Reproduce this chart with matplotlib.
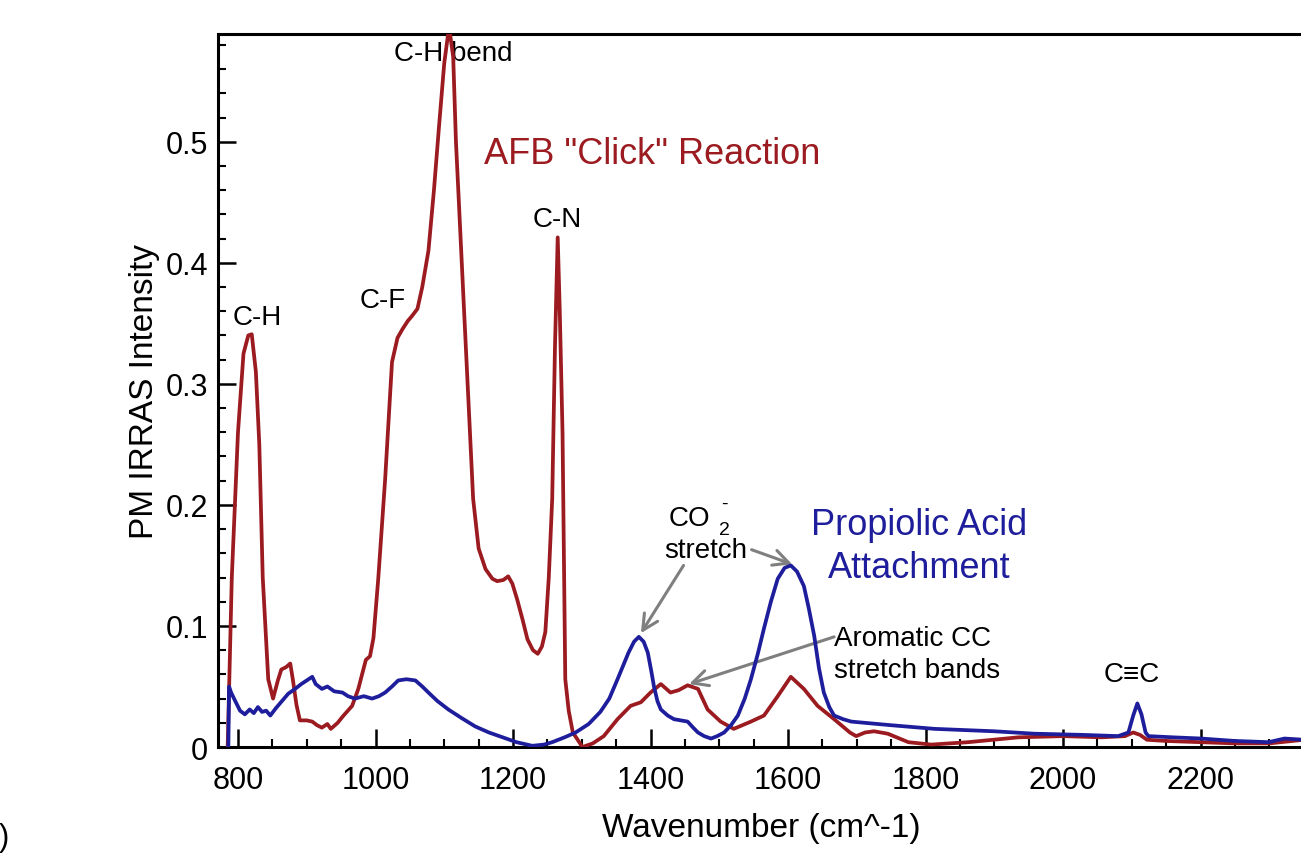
import numpy as np
import matplotlib
matplotlib.use("Agg")
import matplotlib.pyplot as plt
from matplotlib.ticker import MultipleLocator, FuncFormatter

# --------------------------------------------------------------
# Data
# --------------------------------------------------------------
afb_wn = [785, 791, 800, 808, 815, 820, 826, 831, 836, 844, 851, 858, 863, 870, 876,
          880, 885, 890, 900, 908, 915, 922, 930, 935, 945, 952, 966, 975, 980, 986,
          992, 997, 1004, 1014, 1024, 1032, 1039, 1047, 1053, 1061, 1068, 1077, 1085,
          1092, 1100, 1107, 1113, 1117, 1121, 1128, 1135, 1142, 1150, 1160, 1170, 1177,
          1186, 1193, 1199, 1206, 1214, 1221, 1229, 1236, 1242, 1247, 1252, 1257, 1261,
          1265, 1268, 1272, 1276, 1281, 1287, 1301, 1316, 1332, 1352, 1371, 1386, 1400,
          1415, 1429, 1441, 1454, 1469, 1483, 1502, 1521, 1546, 1565, 1585, 1604, 1623,
          1643, 1667, 1690, 1699, 1712, 1725, 1745, 1775, 1808, 1862, 1935, 2000, 2056,
          2090, 2102, 2112, 2122, 2150, 2200, 2250, 2300, 2350]
afb_int = [0.0, 0.14, 0.26, 0.325, 0.34, 0.341, 0.31, 0.25, 0.14, 0.056, 0.040, 0.055,
           0.064, 0.066, 0.069, 0.055, 0.035, 0.022, 0.022, 0.021, 0.018, 0.016, 0.019,
           0.015, 0.020, 0.025, 0.034, 0.048, 0.059, 0.072, 0.075, 0.090, 0.139, 0.221,
           0.318, 0.338, 0.345, 0.352, 0.356, 0.362, 0.380, 0.410, 0.460, 0.510, 0.565,
           0.595, 0.570, 0.500, 0.453, 0.370, 0.288, 0.205, 0.164, 0.147, 0.139, 0.137,
           0.138, 0.141, 0.135, 0.122, 0.105, 0.089, 0.080, 0.077, 0.083, 0.095, 0.140,
           0.205, 0.330, 0.421, 0.360, 0.260, 0.056, 0.030, 0.012, 0.0, 0.003, 0.009,
           0.023, 0.034, 0.037, 0.045, 0.052, 0.045, 0.047, 0.051, 0.048, 0.031, 0.021,
           0.015, 0.021, 0.026, 0.042, 0.058, 0.048, 0.034, 0.023, 0.012, 0.009, 0.012,
           0.013, 0.011, 0.004, 0.002, 0.004, 0.008, 0.009, 0.008, 0.009, 0.012, 0.010,
           0.006, 0.005, 0.004, 0.003, 0.003, 0.006]

prop_wn = [786, 787, 790, 796, 803, 810, 817, 823, 829, 835, 841, 847, 855, 864, 873,
           883, 892, 900, 908, 913, 922, 930, 940, 952, 960, 970, 983, 995, 1005, 1014,
           1024, 1033, 1045, 1058, 1068, 1077, 1090, 1106, 1125, 1145, 1165, 1185, 1205,
           1228, 1245, 1257, 1275, 1291, 1310, 1327, 1340, 1352, 1360, 1368, 1376, 1383,
           1390, 1396, 1401, 1405, 1410, 1415, 1425, 1434, 1454, 1462, 1469, 1478, 1488,
           1497, 1507, 1517, 1527, 1537, 1546, 1556, 1565, 1575, 1585, 1595, 1604, 1613,
           1623, 1630, 1638, 1645, 1652, 1660, 1667, 1680, 1692, 1750, 1813, 1900, 1958,
           2030, 2080, 2095, 2102, 2108, 2114, 2120, 2124, 2160, 2201, 2250, 2299, 2322,
           2350]
prop_int = [0.0, 0.050, 0.045, 0.038, 0.030, 0.027, 0.031, 0.028, 0.033, 0.029, 0.030,
            0.026, 0.032, 0.038, 0.044, 0.048, 0.052, 0.055, 0.058, 0.052, 0.048, 0.050,
            0.046, 0.045, 0.042, 0.040, 0.042, 0.040, 0.042, 0.045, 0.050, 0.055, 0.056,
            0.055, 0.050, 0.045, 0.038, 0.031, 0.024, 0.017, 0.012, 0.008, 0.004, 0.001,
            0.002, 0.004, 0.008, 0.012, 0.019, 0.029, 0.040, 0.056, 0.067, 0.078, 0.087,
            0.091, 0.087, 0.078, 0.063, 0.050, 0.038, 0.031, 0.026, 0.023, 0.021, 0.016,
            0.012, 0.009, 0.007, 0.009, 0.012, 0.018, 0.026, 0.040, 0.056, 0.077, 0.098,
            0.120, 0.139, 0.148, 0.150, 0.145, 0.133, 0.115, 0.092, 0.065, 0.045, 0.033,
            0.026, 0.023, 0.021, 0.018, 0.015, 0.013, 0.011, 0.010, 0.009, 0.012, 0.026,
            0.036, 0.027, 0.012, 0.009, 0.008, 0.007, 0.005, 0.004, 0.007, 0.006]

red = "#9b1b20"
blue = "#1e1e9c"
grey = "#7f7f7f"

# --------------------------------------------------------------
# Plot settings
# --------------------------------------------------------------
plt.rcParams["font.family"] = ["Liberation Sans", "DejaVu Sans"]

fig = plt.figure(figsize=(13.01, 8.54), dpi=100)
ax = fig.add_axes([0.1676, 0.1241, 0.8345, 0.8349])

ax.plot(afb_wn, afb_int, color=red, lw=2.7, zorder=3)
ax.plot(prop_wn, prop_int, color=blue, lw=2.7, zorder=4)

ax.set_xlim(771, 2350)
ax.set_ylim(0, 0.589)

ax.xaxis.set_major_locator(MultipleLocator(200))
ax.xaxis.set_minor_locator(MultipleLocator(50))
ax.yaxis.set_major_locator(MultipleLocator(0.1))
ax.yaxis.set_minor_locator(MultipleLocator(0.02))
ax.yaxis.set_major_formatter(FuncFormatter(lambda v, p: "0" if abs(v) < 1e-9 else f"{v:.1f}"))

ax.tick_params(which="major", direction="in", length=13, width=1.8, labelsize=22, pad=7)
ax.tick_params(axis="x", which="major", pad=13)
ax.tick_params(which="minor", direction="in", length=6, width=1.5)
for s in ax.spines.values():
    s.set_linewidth(2.2)

ax.set_xlabel("Wavenumber (cm^-1)", fontsize=24, labelpad=12)
ax.set_ylabel("PM IRRAS Intensity", fontsize=24, labelpad=4)

# --------------------------------------------------------------
# Labels on the peaks
# --------------------------------------------------------------
small = 20
ax.text(1113, 0.573, "C-H bend", fontsize=small, ha="center", va="center", zorder=2)
ax.text(828, 0.355, "C-H", fontsize=small, ha="center", va="center")
ax.text(1011, 0.369, "C-F", fontsize=small, ha="center", va="center")
ax.text(1265, 0.436, "C-N", fontsize=small, ha="center", va="center")
ax.text(2100, 0.060, "C\u2261C", fontsize=small, ha="center", va="center")

ax.text(1402, 0.490, 'AFB "Click" Reaction', fontsize=26, color=red, ha="center", va="center")
ax.text(1791, 0.166, "Propiolic Acid\nAttachment", fontsize=26, color=blue,
        ha="center", va="center", linespacing=1.3)

ax.text(1457, 0.189, "CO", fontsize=small, ha="center", va="center")
ax.text(1508, 0.180, "2", fontsize=14, ha="center", va="center")
ax.text(1508, 0.201, "-", fontsize=14, ha="center", va="center")
ax.text(1480, 0.163, "stretch", fontsize=small, ha="center", va="center")

ax.text(1667, 0.077, "Aromatic CC\nstretch bands", fontsize=small, ha="left", va="center",
        linespacing=1.3)

arrow = dict(arrowstyle="->", color=grey, lw=2.2, mutation_scale=28, shrinkA=0, shrinkB=0)
ax.annotate("", xy=(1386, 0.094), xytext=(1448, 0.150), arrowprops=arrow)
ax.annotate("", xy=(1606, 0.151), xytext=(1547, 0.163), arrowprops=arrow)
ax.annotate("", xy=(1456, 0.052), xytext=(1667, 0.091), arrowprops=arrow)

# panel letter, cut off at the left edge
fig.text(-0.001, 1 - 838 / 854, ")", fontsize=22, ha="left", va="center")

plt.savefig("out.png", dpi=100)
